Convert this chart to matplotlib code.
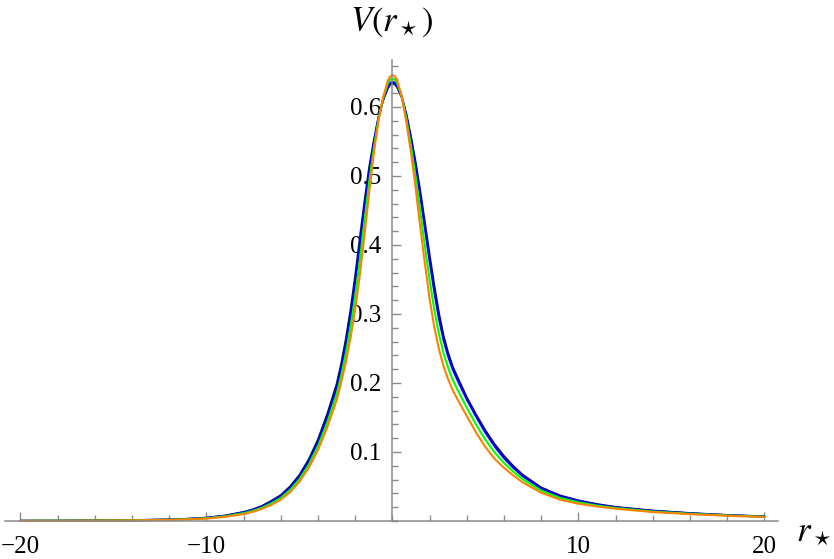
import matplotlib
matplotlib.use("Agg")
import matplotlib.pyplot as plt
from matplotlib.ticker import MultipleLocator, FixedLocator

# Tortoise coordinate grid
r_star = [-20, -18, -16, -14, -12, -11, -10, -9, -8, -7.5, -7, -6.5, -6, -5.5, -5, -4.5, -4,
          -3.5, -3,
          -2.75, -2.5, -2.25, -2, -1.75, -1.5, -1.25, -1, -0.75, -0.5, -0.25, -0.125, 0,
          0.125, 0.25, 0.5, 0.75, 1, 1.25, 1.5, 1.75, 2, 2.25, 2.5, 2.75, 3, 3.25,
          3.5, 4, 4.5, 5, 5.5, 6, 6.5, 7,
          8, 9, 10, 11, 12, 14, 16, 18, 20]

V_black = [0.0003, 0.0004, 0.0007, 0.0012, 0.0021, 0.0031, 0.0047, 0.0078, 0.013, 0.0167,
           0.022, 0.0292, 0.0375, 0.050, 0.0665, 0.089, 0.118, 0.155, 0.198,
           0.228, 0.264, 0.306, 0.355, 0.410, 0.463, 0.512, 0.551, 0.585, 0.610, 0.627,
           0.6325, 0.634,
           0.6328, 0.629, 0.614, 0.589, 0.556, 0.519, 0.477, 0.431, 0.385, 0.341, 0.301,
           0.268, 0.243, 0.223,
           0.208, 0.179, 0.154, 0.131, 0.111, 0.094, 0.0795, 0.067,
           0.0485, 0.037, 0.0298, 0.0244, 0.0203, 0.015, 0.0114, 0.0086, 0.0066]
V_blue = [0.0003, 0.0004, 0.0007, 0.0011, 0.002, 0.003, 0.0045, 0.0075, 0.0125, 0.016,
          0.021, 0.028, 0.036, 0.048, 0.064, 0.086, 0.114, 0.150, 0.192,
          0.221, 0.256, 0.297, 0.345, 0.400, 0.455, 0.506, 0.548, 0.584, 0.611, 0.629,
          0.6348, 0.6365,
          0.6352, 0.631, 0.615, 0.588, 0.553, 0.514, 0.470, 0.423, 0.376, 0.332, 0.293,
          0.262, 0.238, 0.219,
          0.204, 0.176, 0.151, 0.128, 0.108, 0.091, 0.077, 0.065,
          0.047, 0.036, 0.029, 0.0237, 0.0198, 0.0146, 0.0111, 0.0084, 0.0064]
V_green = [0.00025, 0.00035, 0.0006, 0.001, 0.0018, 0.0027, 0.004, 0.0068, 0.0113, 0.0147,
           0.0194, 0.0258, 0.0335, 0.045, 0.0605, 0.0815, 0.1085, 0.143, 0.1835,
           0.211, 0.2435, 0.2815, 0.326, 0.3785, 0.435, 0.491, 0.5405, 0.582, 0.6125, 0.6335,
           0.6395, 0.641,
           0.6398, 0.635, 0.615, 0.583, 0.543, 0.498, 0.4475, 0.3975, 0.349, 0.3065, 0.271,
           0.243, 0.2215, 0.204,
           0.19, 0.164, 0.1395, 0.1175, 0.099, 0.084, 0.0715, 0.0605,
           0.044, 0.0335, 0.027, 0.0224, 0.0188, 0.0138, 0.0105, 0.008, 0.0061]
V_orange = [0.0002, 0.0003, 0.0005, 0.0009, 0.0016, 0.0023, 0.0035, 0.006, 0.010, 0.0133,
            0.0178, 0.0235, 0.031, 0.042, 0.057, 0.077, 0.103, 0.136, 0.175,
            0.201, 0.231, 0.266, 0.307, 0.357, 0.415, 0.476, 0.533, 0.580, 0.614, 0.638,
            0.644, 0.646,
            0.6445, 0.639, 0.615, 0.578, 0.533, 0.482, 0.425, 0.372, 0.322, 0.281, 0.249,
            0.224, 0.205, 0.189,
            0.176, 0.152, 0.128, 0.107, 0.090, 0.077, 0.066, 0.056,
            0.041, 0.031, 0.025, 0.021, 0.0178, 0.013, 0.0099, 0.0076, 0.0058]

series = [("black", "#10104a", V_black), ("blue", "#0000ff", V_blue),
          ("green", "#00ff00", V_green), ("orange", "#ff8000", V_orange)]

x_major = [-20, -10, 10, 20]
y_major = [0.1, 0.2, 0.3, 0.4, 0.5, 0.6]

W, H = 834, 559
fig = plt.figure(figsize=(W / 100, H / 100), dpi=100)
ax = fig.add_axes([5 / W, 1 - 521 / H, 773 / W, (521 - 60) / H])
ax.set_xlim(-20.83, 20.73)
ax.set_ylim(0, 0.668)

for name, col, vals in series:
    ax.plot(r_star, vals, color=col, lw=1.5, clip_on=False,
            solid_joinstyle="round", solid_capstyle="round")

axis_col = "#8a8a8a"
for s in ["top", "right"]:
    ax.spines[s].set_visible(False)
ax.spines["left"].set_position(("data", 0))
ax.spines["bottom"].set_position(("data", 0))
for s in ["left", "bottom"]:
    ax.spines[s].set_color(axis_col)
    ax.spines[s].set_linewidth(1.1)

ax.xaxis.set_major_locator(FixedLocator(x_major))
ax.xaxis.set_minor_locator(MultipleLocator(2))
ax.yaxis.set_major_locator(FixedLocator(y_major))
ax.yaxis.set_minor_locator(MultipleLocator(0.02))
ax.set_xticklabels([str(v) if v >= 0 else "\u2212" + str(-v) for v in x_major])
ax.set_yticklabels([f"{v:.1f}" for v in y_major])

for lbl in ax.get_xticklabels() + ax.get_yticklabels():
    lbl.set_fontfamily("Liberation Serif")
    lbl.set_fontsize(18)

ax.tick_params(which="major", direction="in", length=6.5, width=1.0, color=axis_col)
ax.tick_params(which="minor", direction="in", length=4, width=1.0, color=axis_col)
ax.tick_params(axis="x", which="major", pad=11)
ax.tick_params(axis="y", which="major", pad=8)
ax.patch.set_visible(False)

plt.rcParams["mathtext.fontset"] = "stix"
fig.text(392 / W, 1 - 22 / H, r"$V(r_\star)$", ha="center", va="center", fontsize=25)
fig.text(814 / W, 1 - 531 / H, r"$r_\star$", ha="center", va="center", fontsize=25)

fig.savefig("out.png", dpi=100)
